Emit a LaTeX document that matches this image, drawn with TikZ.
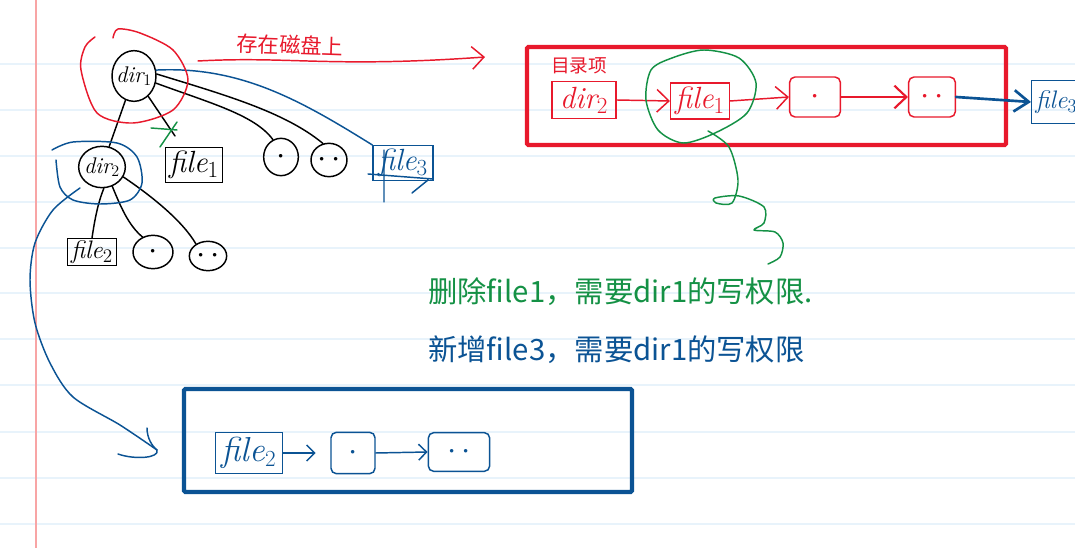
\documentclass[tikz,border=0pt]{standalone}
\usepackage{fontspec}
\newfontfamily\cjk{Noto Sans CJK SC}
\usetikzlibrary{arrows.meta,shapes.geometric}
\pgfdeclarelayer{bg}
\pgfsetlayers{bg,main}
\definecolor{inkred}{HTML}{E8192C}
\definecolor{inkblue}{HTML}{0B5394}
\definecolor{inkgreen}{HTML}{149145}
\definecolor{ruleblue}{HTML}{E8F3FB}
\definecolor{marginred}{HTML}{F8A5A5}
\newcommand{\twodots}{$\cdot$\hspace{.15em}$\cdot$}
\tikzset{
    every node/.style={inner sep=0mm, font=\itshape\fontsize{17}{17}\selectfont},
    lab/.style={font=\itshape\fontsize{#1}{#1}\selectfont},
    vertex/.style={ellipse, draw, line width=1.1pt, inner sep=-7pt, minimum width=#1},
    filebox/.style={rectangle, draw, line width=1.1pt, minimum height=27pt},
    hand/.style={line width=1.1pt, line cap=round, line join=round},
    barb/.style={-{Straight Barb[length=9pt,width=17pt]}},
    jot/.style={draw=none, font=\cjk\fontsize{#1}{#1}\selectfont}
}
\begin{document}
\begin{tikzpicture}[x=.75pt, y=-.75pt]
        \useasboundingbox (0,0) rectangle (1075,548);
        \begin{pgfonlayer}{bg}
                \fill [white] (0,0) rectangle (1075,548);
                % ruled paper
                \foreach \y in {64,110,156,202,248,293,339,385,432,478,524}
                        \draw [ruleblue, line width=1.5pt] (0,\y) -- (1075,\y);
                \draw [marginred, line width=1.4pt] (36,0) -- (36,548);
        \end{pgfonlayer}
        % tree
        \node (dirA) [vertex=33pt, minimum height=38pt] at (134,76) {dir$_1$};
        \node (dirB) [vertex=35pt, minimum height=31pt] at (102,167) {dir$_2$};
        \node (fileA) [filebox, lab=23, minimum width=43pt, minimum height=26pt] at (194,165) {file$_1$};
        \node (dotA) [vertex=26pt, lab=26, minimum height=28pt] at (281,157) {$\cdot$};
        \node (dotdotA) [vertex=27pt, lab=26, minimum height=25pt] at (329,160) {\twodots};
        \node (fileC) [filebox, inkblue, lab=23, minimum width=45pt, minimum height=26pt] at (403,163) {file$_3$};
        \node (fileB) [filebox, lab=19, minimum width=37pt, minimum height=20pt] at (92,252) {file$_2$};
        \node (dotB) [vertex=30pt, lab=26, minimum height=25pt] at (153,252) {$\cdot$};
        \node (dotdotB) [vertex=28pt, lab=26, minimum height=22pt] at (208,256) {\twodots};
        \coordinate (cutEnd) at (175,136);
        \draw [hand] (dirA) edge (dirB);
        \draw [hand] (dirA.-55) edge (cutEnd);
        \draw [hand] (dirA.-18) .. controls (210,103) and (255,115) .. (dotA.115);
        \draw [hand] (dirA.5) .. controls (225,95) and (285,112) .. (dotdotA.110);
        \draw [hand, inkblue] (dirA.15) .. controls (240,66) and (300,100) .. (fileC.north west);
        \draw [hand] (dirB.-85) .. controls (97,205) and (94,225) .. (fileB.north);
        \draw [hand] (dirB.-62) .. controls (120,205) and (128,225) .. (dotB.125);
        \draw [hand] (dirB.-25) .. controls (150,195) and (182,220) .. (dotdotB.135);
        % strokes round file3
        \draw [hand, inkblue] (368,174) -- (433,179) (384,150) -- (384,202) (412,193) -- (428,180);
        % red ring and the arrow leaving it
        \draw [hand, inkred] plot [smooth] coordinates {(95,37) (85,47) (81,70) (97,113) (133,123) (173,110) (188,80) (173,50) (140,33) (118,29) (113,38)};
        \node (diskLabel) [jot=16, inkred, rotate=-2] at (290,45) {存在磁盘上};
        \coordinate (diskTail) at (198,61);
        \coordinate (diskTip) at (485,57);
        \draw [hand, inkred, barb] (diskTail) .. controls (290,56) and (330,68) .. (diskTip);
        % cross on the removed link
        \draw [hand, inkgreen] (151,128) -- (177,130) (160,147) -- (177,122);
        % blue ring round dir2 and its arrow
        \draw [hand, inkblue] plot [smooth] coordinates {(52,150) (73,142) (117,143) (137,157) (142,183) (130,200) (100,204) (73,200) (60,187) (56,160)};
        \coordinate (listTail) at (80,188);
        \coordinate (listTip) at (157,450);
        \draw [hand, inkblue] plot [smooth] coordinates {(listTail) (53,210) (35,243) (30,280) (35,323) (50,363) (73,397) (120,425) (listTip)};
        \draw [hand, inkblue] (147,428) .. controls (147,438) and (152,446) .. (listTip) .. controls (160,458) and (135,460) .. (118,454);
        % red entry list
        \draw [inkred, line width=3.2pt, rounded corners=1pt] (527,47) rectangle (1006,145);
        \node (entryLabel) [jot=14, inkred] at (579,66) {目录项};
        \node (dirBox) [filebox, inkred, lab=23, minimum width=48pt, minimum height=28pt] at (584,100) {dir$_2$};
        \node (fileOne) [filebox, inkred, lab=23, minimum width=44pt, minimum height=27pt] at (700,101) {file$_1$};
        \node (dotBox) [filebox, inkred, lab=26, minimum width=38pt, minimum height=30pt, rounded corners=4pt] at (815,97) {$\cdot$};
        \node (dotdotBox) [filebox, inkred, lab=26, minimum width=35pt, minimum height=30pt, rounded corners=4pt] at (932,97) {\twodots};
        \node (fileThree) [filebox, inkblue, lab=19, inner xsep=3pt, minimum height=32pt, anchor=west] at (1031,102) {file$_3$};
        \draw [hand, inkred] (dirBox.east) edge [barb] (fileOne.west);
        \draw [hand, inkred] (fileOne.east) edge [barb] (dotBox.west);
        \draw [hand, inkred, line width=1.6pt] (dotBox.east) edge [barb] (dotdotBox.west);
        \draw [hand, inkblue, line width=2pt] (dotdotBox.east) edge [-{Straight Barb[length=11pt,width=16pt]}] (fileThree.west);
        % green ring and its squiggle
        \draw [hand, inkgreen] plot [smooth cycle] coordinates {(651,70) (672,58) (704,50) (739,58) (756,83) (747,113) (715,133) (683,143) (658,130) (646,100)};
        \draw [hand, inkgreen] plot [smooth] coordinates {(708,131) (729,147) (738,180) (732,203) (716,203) (715,198) (739,196) (764,207) (764,223) (754,230) (775,232) (783,243) (780,257) (768,264)};
        % the two remarks
        \node (delNote) [jot=22, inkgreen, anchor=west] at (428,292) {删除\textit{file1}，需要\textit{dir1}的写权限.};
        \node (addNote) [jot=22, inkblue, anchor=west] at (428,350) {新增\textit{file3}，需要\textit{dir1}的写权限};
        % blue list
        \draw [inkblue, line width=3.2pt, rounded corners=1pt] (184,389) rectangle (632,492);
        \node (fileTwo) [filebox, inkblue, lab=26, minimum width=50pt, minimum height=31pt] at (249,453) {file$_2$};
        \node (dotList) [filebox, inkblue, lab=24, minimum width=33pt, minimum height=31pt, rounded corners=4pt] at (353,453) {$\cdot$};
        \node (dotdotList) [filebox, inkblue, lab=24, minimum width=46pt, minimum height=29pt, rounded corners=4pt] at (459,452) {\twodots};
        \draw [hand, inkblue] (fileTwo.east) edge [-{Straight Barb[length=6pt,width=12pt]}, shorten >=11pt] (dotList.west);
        \draw [hand, inkblue] (dotList.east) edge [-{Straight Barb[length=6pt,width=12pt]}] (dotdotList.west);
\end{tikzpicture}
\end{document}
